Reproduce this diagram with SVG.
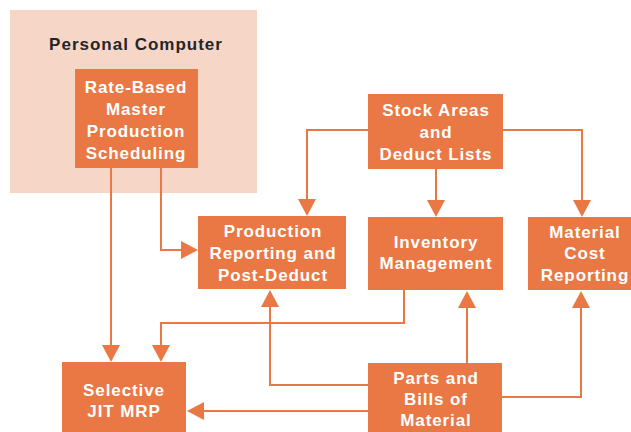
<svg xmlns="http://www.w3.org/2000/svg" width="631" height="432" viewBox="0 0 631 432">
<defs>
<style>
.box{fill:#ea7844}
.t{font-family:"Liberation Sans",Arial,sans-serif;font-weight:bold;font-size:17px;fill:#ffffff;text-anchor:middle;letter-spacing:0.9px}
.title{font-family:"Liberation Sans",Arial,sans-serif;font-weight:bold;font-size:17px;fill:#252525;text-anchor:middle;letter-spacing:1px}
.ln{fill:none;stroke:#ea7844;stroke-width:2}
.ah{fill:#ea7844}
</style>
</defs>
<rect width="631" height="432" fill="#ffffff"/>
<g id="personal-computer">
<rect x="10" y="10" width="247" height="183" fill="#f6d6c7"/>
<text class="title" x="136" y="50">Personal Computer</text>
</g>
<g id="connectors">
<polyline class="ln" points="111,168 111,346"/>
<polygon class="ah" points="102,345 120,345 111,362"/>
<polyline class="ln" points="161,168 161,250 183,250"/>
<polygon class="ah" points="181,241 181,259 198,250"/>
<polyline class="ln" points="368,130 307,130 307,200"/>
<polygon class="ah" points="298,199 316,199 307,216"/>
<polyline class="ln" points="436,169 436,201"/>
<polygon class="ah" points="427,200 445,200 436,217"/>
<polyline class="ln" points="503,130 582,130 582,201"/>
<polygon class="ah" points="573,200 591,200 582,217"/>
<polyline class="ln" points="404,290 404,323 161,323 161,346"/>
<polygon class="ah" points="152,345 170,345 161,362"/>
<polyline class="ln" points="368,385 270,385 270,306"/>
<polygon class="ah" points="261,307 279,307 270,290"/>
<polyline class="ln" points="467,363 467,307"/>
<polygon class="ah" points="458,308 476,308 467,291"/>
<polyline class="ln" points="502,397 581,397 581,307"/>
<polygon class="ah" points="572,308 590,308 581,291"/>
<polyline class="ln" points="368,411 203,411"/>
<polygon class="ah" points="204,402 204,420 187,411"/>
</g>
<g id="rate-based">
<rect class="box" x="75" y="69" width="123" height="99"/>
<text class="t" x="136" y="93">Rate-Based</text>
<text class="t" x="136" y="115">Master</text>
<text class="t" x="136" y="137">Production</text>
<text class="t" x="136" y="159">Scheduling</text>
</g>
<g id="stock-areas">
<rect class="box" x="368" y="94" width="135" height="75"/>
<text class="t" x="436" y="116">Stock Areas</text>
<text class="t" x="436" y="138">and</text>
<text class="t" x="436" y="160">Deduct Lists</text>
</g>
<g id="production-reporting">
<rect class="box" x="198" y="216" width="148" height="73"/>
<text class="t" x="273" y="237">Production</text>
<text class="t" x="273" y="259">Reporting and</text>
<text class="t" x="273" y="281">Post-Deduct</text>
</g>
<g id="inventory">
<rect class="box" x="368" y="217" width="135" height="73"/>
<text class="t" x="436" y="248">Inventory</text>
<text class="t" x="436" y="269">Management</text>
</g>
<g id="material-cost">
<rect class="box" x="528" y="217" width="110" height="73"/>
<text class="t" x="585" y="238">Material</text>
<text class="t" x="585" y="259">Cost</text>
<text class="t" x="585" y="281">Reporting</text>
</g>
<g id="selective-jit">
<rect class="box" x="62" y="362" width="124" height="80"/>
<text class="t" x="124" y="396">Selective</text>
<text class="t" x="124" y="417">JIT MRP</text>
</g>
<g id="parts-bills">
<rect class="box" x="368" y="363" width="134" height="80"/>
<text class="t" x="436" y="384">Parts and</text>
<text class="t" x="436" y="405">Bills of</text>
<text class="t" x="436" y="426">Material</text>
</g>
</svg>
